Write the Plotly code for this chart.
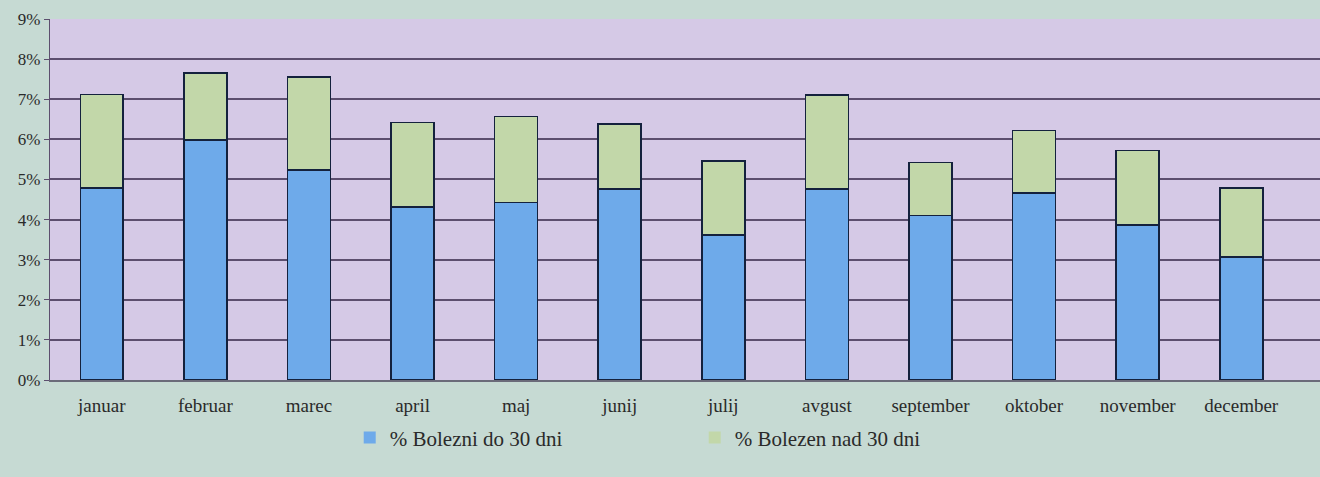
import plotly.graph_objects as go

months = ["januar", "februar", "marec", "april", "maj", "junij", "julij",
          "avgust", "september", "oktober", "november", "december"]
do_30 = [4.78, 5.99, 5.24, 4.31, 4.43, 4.76, 3.61, 4.76, 4.10, 4.66, 3.87, 3.06]
nad_30 = [2.34, 1.66, 2.32, 2.11, 2.14, 1.62, 1.85, 2.35, 1.32, 1.56, 1.85, 1.72]
series_names = ["% Bolezni do 30 dni", "% Bolezen nad 30 dni"]
y_ticks = list(range(0, 10))
y_tick_labels = [f"{v}%" for v in y_ticks]

serif = "Liberation Serif"
outline = dict(color="#14213d", width=1.6)
blue = "#6eaaea"
green = "#c2d7a9"

fig = go.Figure()
fig.add_trace(go.Bar(x=months, y=do_30, name=series_names[0], showlegend=False,
                     marker=dict(color=blue, line=outline), width=0.415))
fig.add_trace(go.Bar(x=months, y=nad_30, name=series_names[1], showlegend=False,
                     marker=dict(color=green, line=outline), width=0.415))
# legend entries (no outline on the swatches, as in the reference)
for nm, col in zip(series_names, [blue, green]):
    fig.add_trace(go.Bar(x=[months[0]], y=[None], name=nm, showlegend=True,
                         marker=dict(color=col, line=dict(width=0)), width=0.415))

fig.update_layout(
    barmode="stack",
    width=1320, height=477,
    margin=dict(l=50, r=0, t=19, b=97, autoexpand=False),
    paper_bgcolor="#c6dad3",
    plot_bgcolor="#d5c9e6",
    font=dict(family=serif, color="#2a2a2a", size=14),
    showlegend=True,
    legend=dict(orientation="h", x=0.236, xanchor="left",
                y=-0.16, yanchor="middle", font=dict(size=21, family=serif, color="#2a2a2a"),
                entrywidth=300, bgcolor="rgba(0,0,0,0)", traceorder="normal",
                itemwidth=30),
    bargap=0.585,
)
fig.update_xaxes(range=[-0.5, 11.76], showgrid=False, showline=True,
                 linecolor="#6b6b7a", linewidth=1.5, ticks="outside", ticklen=7,
                 tickcolor="rgba(0,0,0,0)", tickangle=0,
                 tickfont=dict(size=19, family=serif, color="#2a2a2a"))
fig.update_yaxes(range=[0, 9], tickvals=y_ticks, ticktext=y_tick_labels,
                 showgrid=True, gridcolor="#5c4e6e", gridwidth=1.5,
                 showline=True, linecolor="#5c4e6e", linewidth=1.2,
                 ticks="outside", ticklen=5, tickcolor="#5c4e6e",
                 zeroline=False,
                 tickfont=dict(size=17, family=serif, color="#2a2a2a"))

fig.write_html("out.html", config={"displayModeBar": False},
               post_script="document.body.style.margin='0';")
